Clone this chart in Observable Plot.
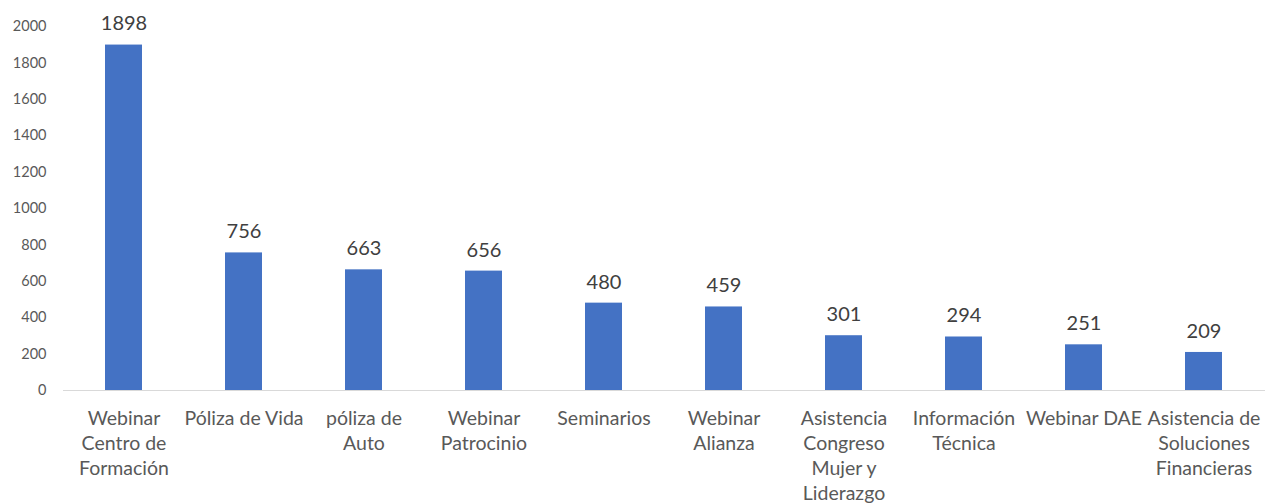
<!DOCTYPE html>
<html>
<head>
<meta charset="utf-8">
<script src="https://cdn.jsdelivr.net/npm/d3@7"></script>
<script src="https://cdn.jsdelivr.net/npm/@observablehq/plot@0.6"></script>
<style>
  html, body { margin: 0; padding: 0; background: #fff; }
  svg { display: block; }
</style>
</head>
<body>
<div id="chart"></div>
<script>
const categories = [
  "Webinar\nCentro de\nFormación",
  "Póliza de Vida",
  "póliza de\nAuto",
  "Webinar\nPatrocinio",
  "Seminarios",
  "Webinar\nAlianza",
  "Asistencia\nCongreso\nMujer y\nLiderazgo",
  "Información\nTécnica",
  "Webinar DAE",
  "Asistencia de\nSoluciones\nFinancieras"
];
const values = [1898, 756, 663, 656, 480, 459, 301, 294, 251, 209];
const yTicks = [0, 200, 400, 600, 800, 1000, 1200, 1400, 1600, 1800, 2000];

const data = categories.map((c, i) => ({category: c, value: values[i]}));

const chart = Plot.plot({
  width: 1268,
  height: 504,
  marginTop: 26,
  marginBottom: 114,
  marginLeft: 63,
  marginRight: 3,
  style: {fontFamily: "Lato, 'Open Sans', sans-serif", background: "#fff"},
  x: {domain: categories, paddingInner: 0.69, paddingOuter: 0.345, axis: null},
  y: {domain: [0, 2000], ticks: yTicks, axis: null},
  marks: [
    Plot.axisY({ticks: yTicks, tickSize: 0, tickPadding: 17, fontSize: 14.5, fill: "#595959", tickFormat: d => String(d), label: null}),
    Plot.axisX({tickSize: 0, tickPadding: 17, fontSize: 19.5, lineHeight: 1.28, fill: "#595959", label: null}),
    Plot.barY(data, {x: "category", y: "value", fill: "#4472C4"}),
    Plot.ruleY([0], {stroke: "#d9d9d9", strokeWidth: 1}),
    Plot.text(data, {x: "category", y: "value", text: d => String(d.value), dy: -21, fontSize: 20, fill: "#404040"})
  ]
});
document.getElementById("chart").appendChild(chart);
</script>
</body>
</html>
